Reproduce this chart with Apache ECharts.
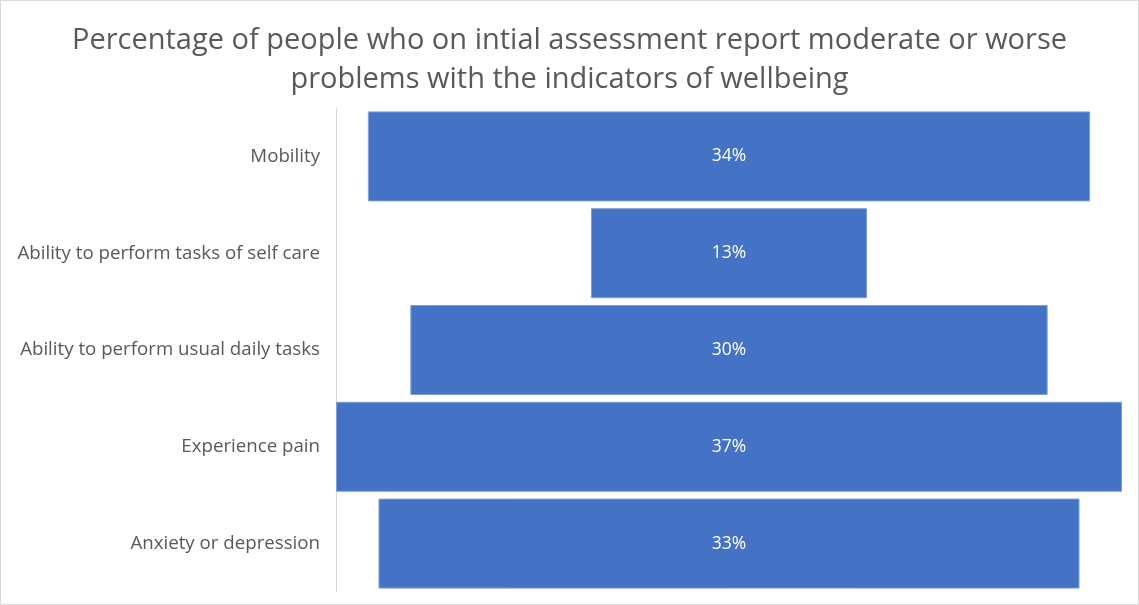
<!DOCTYPE html>
<html><head><meta charset="utf-8">
<script src="https://cdn.jsdelivr.net/npm/echarts@6/dist/echarts.min.js"></script>
<style>html,body{margin:0;padding:0;background:#fff}#c{width:1139px;height:605px;box-sizing:border-box;border:1px solid #d9d9d9}</style>
</head><body><div id="c"></div>
<script>
const categories = ["Mobility","Ability to perform tasks of self care","Ability to perform usual daily tasks","Experience pain","Anxiety or depression"];
const values = [34, 13, 30, 37, 33];
const titleText = "Percentage of people who on intial assessment report moderate or worse\nproblems with the indicators of wellbeing";

const maxV = Math.max(...values);
const offsets = values.map(v => (maxV - v) / 2);

const chart = echarts.init(document.getElementById('c'));
chart.setOption({
  animation: false,
  title: {
    text: titleText, left: 'center', top: 15,
    textStyle: { fontFamily: '"Open Sans", sans-serif', fontWeight: 'normal', fontSize: 29, color: '#595959', lineHeight: 39 }
  },
  grid: { left: 335, right: 16, top: 107, bottom: 12, containLabel: false },
  xAxis: { type: 'value', min: 0, max: maxV, show: false },
  yAxis: {
    type: 'category', data: categories, inverse: true,
    axisLine: { show: true, lineStyle: { color: '#d9d9d9', width: 1 } },
    axisTick: { show: false },
    axisLabel: { margin: 16, fontFamily: '"Open Sans", sans-serif', fontSize: 18.7, color: '#595959' }
  },
  series: [
    { type: 'bar', stack: 'f', data: offsets, itemStyle: { color: 'transparent' }, silent: true, barCategoryGap: '7%' },
    { type: 'bar', stack: 'f', data: values, barCategoryGap: '7%',
      itemStyle: { color: '#4472C4', borderColor: '#7f9fd8', borderWidth: 1 },
      label: { show: true, position: 'inside', formatter: p => p.value + '%', color: '#fff', fontSize: 17.5, fontFamily: '"Open Sans", sans-serif' } }
  ]
});
</script></body></html>
